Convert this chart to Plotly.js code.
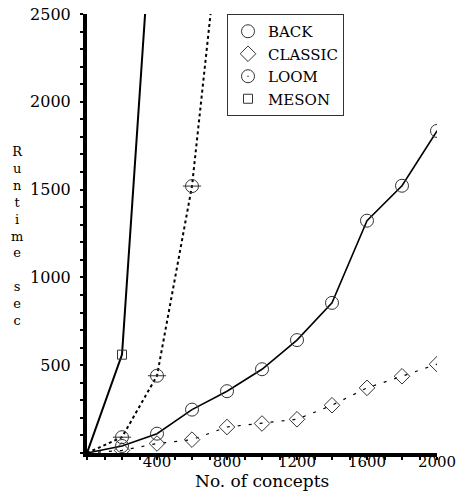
<!DOCTYPE html>
<html>
<head>
<meta charset="utf-8">
<script src="https://cdn.plot.ly/plotly-3.0.1.min.js"></script>
<style>html,body{margin:0;padding:0;background:#fff;}#chart{width:458px;height:499px;}</style>
</head>
<body>
<div id="chart"></div>
<script>
// ---- data ----
const backX    = [0, 200, 400, 600, 800];
const backY    = [0, 90, 440, 1520, 3370];
const classicX = [0, 200, 400, 600, 800, 1000, 1200, 1400, 1600, 1800, 2000];
const classicY = [0, 15, 54, 76, 148, 168, 192, 272, 371, 437, 506];
const loomX    = [0, 200, 400, 600, 800, 1000, 1200, 1400, 1600, 1800, 2000];
const loomY    = [0, 40, 110, 247, 352, 477, 643, 855, 1323, 1522, 1834];
const mesonX   = [0, 200, 400];
const mesonY   = [0, 560, 3500];
const seriesNames = ["BACK", "CLASSIC", "LOOM", "MESON"];
const xTickVals = [400, 800, 1200, 1600, 2000];
const yTickVals = [500, 1000, 1500, 2000, 2500];
const yTitle = "R<br>u<br>n<br>t<br>i<br>m<br>e<br><br>s<br>e<br>c";
const xTitle = "No. of concepts";

const FONT = "'DejaVu Serif', 'Liberation Serif', serif";
const mk = "#333";

function lineTrace(x, y, line) {
  return {x: x, y: y, mode: "lines", type: "scatter", showlegend: false,
          hoverinfo: "skip", line: line};
}
function markTrace(name, x, y, symbol, size, show) {
  return {name: name, x: x.slice(1), y: y.slice(1), mode: "markers", type: "scatter",
          showlegend: show,
          marker: {symbol: symbol, size: size, color: mk, line: {color: mk, width: 1}}};
}

const data = [
  lineTrace(backX, backY, {color: "#000", width: 2, dash: "dot"}),
  lineTrace(classicX, classicY, {color: "#000", width: 1.2, dash: "3px,8px"}),
  lineTrace(loomX, loomY, {color: "#000", width: 1.6}),
  lineTrace(mesonX, mesonY, {color: "#000", width: 2}),
  markTrace(seriesNames[0], backX, backY, "circle-open", 13, true),
  markTrace(seriesNames[1], classicX, classicY, "diamond-open", 12, true),
  markTrace(seriesNames[2], loomX, loomY, "circle-open-dot", 13, true),
  markTrace(seriesNames[3], mesonX, mesonY, "square-open", 9, true),
  markTrace(seriesNames[0] + " ", backX, backY, "line-ew-open", 13, false)
];

const axisCommon = {
  showline: true, linewidth: 4, linecolor: "#000",
  showgrid: false, zeroline: false,
  ticks: "outside", ticklen: 3, tickwidth: 2, tickcolor: "#000",
  tickfont: {family: FONT, size: 15, color: "#000"},
  minor: {dtick: 100, ticks: "outside", ticklen: 3, tickwidth: 2, tickcolor: "#000"}
};

const layout = {
  width: 458, height: 499,
  margin: {l: 87, r: 21, t: 14, b: 46},
  paper_bgcolor: "#fff", plot_bgcolor: "#fff",
  font: {family: FONT, color: "#000"},
  xaxis: Object.assign({}, axisCommon, {
    range: [0, 2000], tickmode: "array", tickvals: xTickVals,
    ticklabelstandoff: -11
  }),
  yaxis: Object.assign({}, axisCommon, {
    range: [0, 2500], tickmode: "array", tickvals: yTickVals,
    tickfont: {family: FONT, size: 16, color: "#000"},
    ticklabelstandoff: 6
  }),
  legend: {
    x: 0.40, y: 1.0, xanchor: "left", yanchor: "top",
    bgcolor: "#fff", bordercolor: "#333", borderwidth: 1,
    font: {family: FONT, size: 15, color: "#000"},
    itemwidth: 30, tracegroupgap: 0
  },
  annotations: [{
    text: yTitle, xref: "paper", yref: "paper", x: -0.2, y: 0.494,
    xanchor: "center", yanchor: "middle", showarrow: false, align: "center",
    font: {family: FONT, size: 13, color: "#000"}
  }, {
    text: xTitle, xref: "paper", yref: "paper", x: 0.5, y: -0.063,
    xanchor: "center", yanchor: "middle", showarrow: false,
    font: {family: FONT, size: 17, color: "#000"}
  }]
};

Plotly.newPlot("chart", data, layout, {displayModeBar: false, staticPlot: true});
</script>
</body>
</html>
